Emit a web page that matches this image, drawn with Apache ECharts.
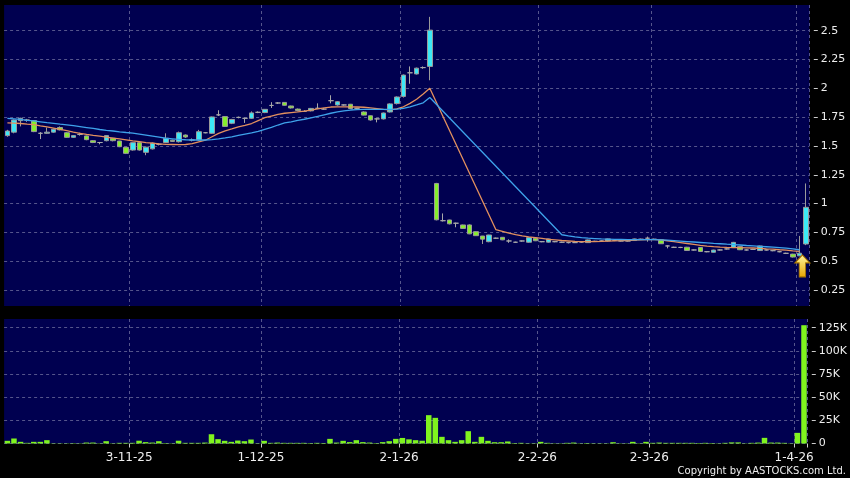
<!DOCTYPE html>
<html><head><meta charset="utf-8">
<script src="https://cdn.jsdelivr.net/npm/echarts@6/dist/echarts.min.js"></script>
<style>html,body{margin:0;padding:0;background:#000;}#c{width:850px;height:478px;}</style>
</head><body><div id="c"></div>
<script>
const dates = [
'2025-10-03','2025-10-06','2025-10-08','2025-10-09','2025-10-10','2025-10-13','2025-10-14','2025-10-15','2025-10-16','2025-10-17','2025-10-20','2025-10-21','2025-10-22','2025-10-23','2025-10-24','2025-10-27','2025-10-28','2025-10-30','2025-10-31',
'2025-11-03','2025-11-04','2025-11-05','2025-11-06','2025-11-07','2025-11-10','2025-11-11','2025-11-12','2025-11-13','2025-11-14','2025-11-17','2025-11-18','2025-11-19','2025-11-20','2025-11-21','2025-11-24','2025-11-25','2025-11-26','2025-11-27','2025-11-28',
'2025-12-01','2025-12-02','2025-12-03','2025-12-04','2025-12-05','2025-12-08','2025-12-09','2025-12-10','2025-12-11','2025-12-12','2025-12-15','2025-12-16','2025-12-17','2025-12-18','2025-12-19','2025-12-22','2025-12-23','2025-12-24','2025-12-29','2025-12-30','2025-12-31',
'2026-01-02','2026-01-05','2026-01-06','2026-01-07','2026-01-08','2026-01-09','2026-01-12','2026-01-13','2026-01-14','2026-01-15','2026-01-16','2026-01-19','2026-01-20','2026-01-21','2026-01-22','2026-01-23','2026-01-26','2026-01-27','2026-01-28','2026-01-29','2026-01-30',
'2026-02-02','2026-02-03','2026-02-04','2026-02-05','2026-02-06','2026-02-09','2026-02-10','2026-02-11','2026-02-12','2026-02-13','2026-02-16','2026-02-20','2026-02-23','2026-02-24','2026-02-25','2026-02-26','2026-02-27',
'2026-03-02','2026-03-03','2026-03-04','2026-03-05','2026-03-06','2026-03-09','2026-03-10','2026-03-11','2026-03-12','2026-03-13','2026-03-16','2026-03-17','2026-03-18','2026-03-19','2026-03-20','2026-03-23','2026-03-24','2026-03-25','2026-03-26','2026-03-27','2026-03-30','2026-03-31',
'2026-04-01','2026-04-02'];

const open = [
1.59,1.62,1.72,1.725,1.72,1.61,1.61,1.62,1.66,1.615,
1.575,1.60,1.587,1.546,1.53,1.546,1.567,1.543,1.488,1.465,
1.529,1.445,1.475,1.515,1.53,1.55,1.537,1.595,1.552,1.552,
1.615,1.61,1.77,1.755,1.697,1.748,1.74,1.74,1.792,1.79,
1.852,1.873,1.878,1.847,1.82,1.80,1.805,1.827,1.82,1.893,
1.856,1.856,1.862,1.827,1.795,1.762,1.735,1.735,1.795,1.868,
1.93,2.135,2.125,2.18,2.19,1.175,0.852,0.858,0.83,0.815,
0.815,0.757,0.719,0.67,0.70,0.708,0.676,0.665,0.676,0.665,
0.70,0.67,0.666,0.67,0.665,0.662,0.662,0.667,0.662,0.673,
0.676,0.676,0.68,0.676,0.676,0.68,0.691,0.70,0.691,0.686,
0.633,0.621,0.62,0.622,0.598,0.62,0.583,0.578,0.598,0.607,
0.622,0.627,0.598,0.603,0.593,0.598,0.592,0.583,0.569,0.562,
0.547,0.65];

const close = [
1.63,1.725,1.74,1.725,1.625,1.61,1.62,1.645,1.64,1.575,
1.59,1.60,1.555,1.53,1.53,1.59,1.546,1.494,1.436,1.529,
1.465,1.49,1.525,1.515,1.567,1.54,1.615,1.578,1.552,1.624,
1.615,1.752,1.77,1.67,1.73,1.748,1.74,1.787,1.792,1.818,
1.852,1.873,1.853,1.83,1.808,1.80,1.826,1.827,1.82,1.893,
1.884,1.856,1.825,1.827,1.768,1.726,1.735,1.786,1.865,1.925,
2.115,2.135,2.175,2.18,2.505,0.86,0.852,0.825,0.83,0.785,
0.738,0.722,0.692,0.728,0.70,0.686,0.676,0.665,0.676,0.705,
0.678,0.67,0.694,0.67,0.665,0.662,0.662,0.667,0.685,0.673,
0.676,0.694,0.68,0.676,0.676,0.694,0.691,0.70,0.691,0.652,
0.633,0.621,0.62,0.594,0.598,0.585,0.583,0.597,0.598,0.607,
0.664,0.60,0.598,0.603,0.633,0.598,0.592,0.583,0.569,0.537,
0.57,0.968];

const low = [
1.58,1.61,1.67,1.71,1.62,1.56,1.605,1.615,1.635,1.57,
1.57,1.59,1.55,1.525,1.515,1.54,1.54,1.49,1.43,1.46,
1.46,1.42,1.47,1.505,1.525,1.535,1.53,1.57,1.54,1.545,
1.61,1.605,1.76,1.665,1.69,1.74,1.70,1.735,1.785,1.785,
1.83,1.865,1.85,1.825,1.80,1.795,1.80,1.82,1.815,1.87,
1.85,1.85,1.82,1.82,1.765,1.72,1.705,1.73,1.79,1.86,
1.92,2.04,2.12,2.17,2.07,0.855,0.845,0.82,0.795,0.78,
0.735,0.72,0.65,0.665,0.695,0.683,0.66,0.66,0.67,0.66,
0.675,0.665,0.662,0.665,0.66,0.655,0.658,0.662,0.66,0.668,
0.67,0.672,0.675,0.672,0.672,0.677,0.686,0.67,0.686,0.65,
0.612,0.615,0.614,0.59,0.593,0.58,0.578,0.575,0.593,0.602,
0.62,0.597,0.593,0.598,0.59,0.593,0.587,0.578,0.564,0.533,
0.545,0.64];

const high = [
1.64,1.73,1.745,1.735,1.725,1.62,1.66,1.65,1.67,1.62,
1.595,1.615,1.59,1.55,1.535,1.595,1.57,1.545,1.49,1.53,
1.53,1.495,1.53,1.52,1.61,1.555,1.625,1.60,1.565,1.64,
1.62,1.755,1.81,1.76,1.735,1.755,1.745,1.80,1.80,1.82,
1.88,1.88,1.88,1.85,1.825,1.81,1.83,1.87,1.83,1.94,
1.89,1.86,1.865,1.83,1.80,1.765,1.74,1.79,1.87,1.93,
2.12,2.19,2.18,2.19,2.62,1.18,0.915,0.86,0.835,0.818,
0.82,0.76,0.72,0.73,0.705,0.71,0.69,0.67,0.68,0.708,
0.702,0.675,0.696,0.675,0.67,0.668,0.666,0.672,0.688,0.678,
0.68,0.697,0.685,0.68,0.68,0.697,0.696,0.714,0.696,0.69,
0.638,0.626,0.625,0.625,0.603,0.623,0.588,0.60,0.603,0.612,
0.668,0.63,0.603,0.608,0.636,0.603,0.597,0.588,0.574,0.565,
0.72,1.175];

const volume = [
2900,5400,1800,700,1800,1800,3600,300,300,300,
400,300,1000,1000,300,2500,300,700,700,700,
3000,1500,1000,2500,500,300,3000,700,700,700,
1000,10000,4700,2900,1800,3200,2500,4300,300,2900,
700,1000,700,700,700,700,500,700,500,5000,
1000,2900,1500,3600,1500,1000,500,1500,2500,5000,
6000,4500,3600,3000,30600,27700,7200,3600,1800,3600,
13300,1800,7200,2900,1400,1400,2200,500,700,300,
300,1800,700,300,300,700,1000,300,500,300,
300,300,1400,300,300,1800,300,1800,700,1000,
700,700,700,700,700,500,700,500,300,700,
1200,1200,300,700,1000,6100,1000,1000,700,300,
11500,127700];

const ma10 = [
1.70,1.698,1.695,1.69,1.686,1.675,1.665,1.655,1.645,1.633,
1.62,1.61,1.60,1.592,1.585,1.577,1.569,1.561,1.553,1.545,
1.538,1.53,1.524,1.518,1.514,1.513,1.512,1.513,1.52,1.535,
1.55,1.58,1.61,1.632,1.648,1.665,1.678,1.695,1.72,1.745,
1.76,1.775,1.784,1.79,1.796,1.803,1.812,1.822,1.83,1.838,
1.84,1.84,1.84,1.838,1.836,1.83,1.824,1.818,1.813,1.822,
1.84,1.87,1.905,1.95,2.00,null,null,null,null,null,
null,null,null,null,0.775,0.76,0.745,0.732,0.72,0.712,
0.705,0.698,0.69,0.685,0.68,0.676,0.672,0.67,0.67,0.67,
0.672,0.675,0.677,0.679,0.68,0.683,0.686,0.688,0.688,0.685,
0.678,0.67,0.662,0.654,0.646,0.638,0.632,0.627,0.623,0.62,
0.619,0.618,0.617,0.615,0.612,0.608,0.605,0.60,0.596,0.59,
0.585,null];

const ma20 = [
1.74,1.735,1.73,1.722,1.717,1.71,1.703,1.697,1.69,1.684,
1.676,1.668,1.66,1.652,1.643,1.636,1.63,1.623,1.617,1.612,
1.603,1.594,1.585,1.576,1.567,1.562,1.557,1.554,1.552,1.552,
1.552,1.556,1.561,1.57,1.58,1.592,1.603,1.614,1.627,1.645,
1.662,1.682,1.70,1.71,1.722,1.732,1.744,1.756,1.77,1.784,
1.795,1.804,1.812,1.815,1.817,1.818,1.818,1.818,1.818,1.82,
1.826,1.84,1.856,1.875,1.92,null,null,null,null,null,
null,null,null,null,null,null,null,null,null,null,
null,null,null,null,0.73,0.72,0.712,0.705,0.70,0.697,
0.694,0.692,0.69,0.689,0.688,0.688,0.688,0.688,0.688,0.686,
0.683,0.679,0.675,0.671,0.667,0.663,0.659,0.655,0.652,0.648,
0.645,0.641,0.637,0.634,0.63,0.626,0.622,0.618,0.614,0.608,
0.60,null];

const labelDates = ['2025-11-03','2025-12-01','2026-01-02','2026-02-02','2026-03-02','2026-04-01'];
const priceTicks = [0.25,0.5,0.75,1,1.25,1.5,1.75,2,2.25,2.5];
const volumeTicks = [0,25000,50000,75000,100000,125000];
const arrowPoint = ['2026-04-01', 0.555];

const candle = dates.map((d, i) => [open[i], close[i], low[i], high[i]]);
const isLabel = (idx, val) => labelDates.indexOf(val) >= 0;
const fmtDate = v => { const p = v.split('-'); return (+p[2]) + '-' + (+p[1]) + '-' + p[0].slice(2); };

const FONT = 'DejaVu Sans';
const gridLine = { show: true, lineStyle: { color: '#55558c', type: [3, 3], width: 1 } };
const panelBg = '#000050';

const chart = echarts.init(document.getElementById('c'), null, { renderer: 'canvas' });
chart.setOption({
  animation: false,
  backgroundColor: '#000000',
  grid: [
    { left: 4.1, right: 40.7, top: 5, height: 301, show: true, backgroundColor: panelBg, borderWidth: 0 },
    { left: 4.1, right: 40.7, top: 319, height: 124.5, show: true, backgroundColor: panelBg, borderWidth: 0 }
  ],
  xAxis: [
    { type: 'category', gridIndex: 0, data: dates, boundaryGap: true,
      axisLine: { show: false }, axisTick: { show: false }, axisLabel: { show: false },
      splitLine: Object.assign({ interval: isLabel }, gridLine) },
    { type: 'category', gridIndex: 1, data: dates, boundaryGap: true, offset: 3,
      axisLine: { show: false },
      axisTick: { show: true, interval: isLabel, length: 4, lineStyle: { color: '#cccccc' } },
      axisLabel: { show: true, interval: isLabel, formatter: fmtDate, color: '#eeeeee',
        fontFamily: FONT, fontSize: 12, margin: 5, padding: [0, 6.6, 0, 0] },
      splitLine: Object.assign({ interval: isLabel }, gridLine) }
  ],
  yAxis: [
    { type: 'value', gridIndex: 0, position: 'right', min: 0.112, max: 2.723, offset: 4.5,
      axisLine: { show: false },
      axisTick: { show: true, length: 4, customValues: priceTicks, lineStyle: { color: '#cccccc' } },
      axisLabel: { customValues: priceTicks, color: '#eeeeee', fontFamily: FONT, fontSize: 11, margin: 7 },
      splitLine: gridLine },
    { type: 'value', gridIndex: 1, position: 'right', min: 0, max: 134400, offset: 4.5,
      axisLine: { show: false },
      axisTick: { show: true, length: 4, customValues: volumeTicks, lineStyle: { color: '#cccccc' } },
      axisLabel: { customValues: volumeTicks, color: '#eeeeee', fontFamily: FONT, fontSize: 11, margin: 7,
        formatter: v => v === 0 ? '0' : (v / 1000) + 'K' },
      splitLine: gridLine }
  ],
  graphic: [
    { type: 'text', right: 4, bottom: 2,
      style: { text: 'Copyright by AASTOCKS.com Ltd.', fill: '#eeeeee', font: '10px "DejaVu Sans"' } }
  ],
  series: [
    { type: 'candlestick', xAxisIndex: 0, yAxisIndex: 0, data: candle, barWidth: 5,
      itemStyle: { color: '#3ce8f6', color0: '#86ee2c', borderColor: '#9a9a9a', borderColor0: '#9a9a9a',
        borderColorDoji: '#a8a8a8', borderWidth: 1 },
      markPoint: {
        silent: true,
        data: [{ coord: arrowPoint, symbol: 'path://M7,0 L14,8 L10,8 L10,22 L4,22 L4,8 L0,8 Z',
          symbolSize: [15, 22], symbolOffset: [3, 11],
          itemStyle: { color: new echarts.graphic.LinearGradient(0, 0, 0, 1,
            [{ offset: 0, color: '#fff7a0' }, { offset: 1, color: '#e8a400' }]), borderColor: '#a87400', borderWidth: 1 },
          label: { show: false } }]
      } },
    { type: 'line', xAxisIndex: 0, yAxisIndex: 0, data: ma10, connectNulls: true, symbol: 'none',
      lineStyle: { color: '#e3905e', width: 1.3 }, z: 3 },
    { type: 'line', xAxisIndex: 0, yAxisIndex: 0, data: ma20, connectNulls: true, symbol: 'none',
      lineStyle: { color: '#3ea2ea', width: 1.3 }, z: 3 },
    { type: 'bar', xAxisIndex: 1, yAxisIndex: 1, data: volume, barWidth: 5.5,
      itemStyle: { color: '#80f41e' } }
  ]
});
</script>
</body></html>
